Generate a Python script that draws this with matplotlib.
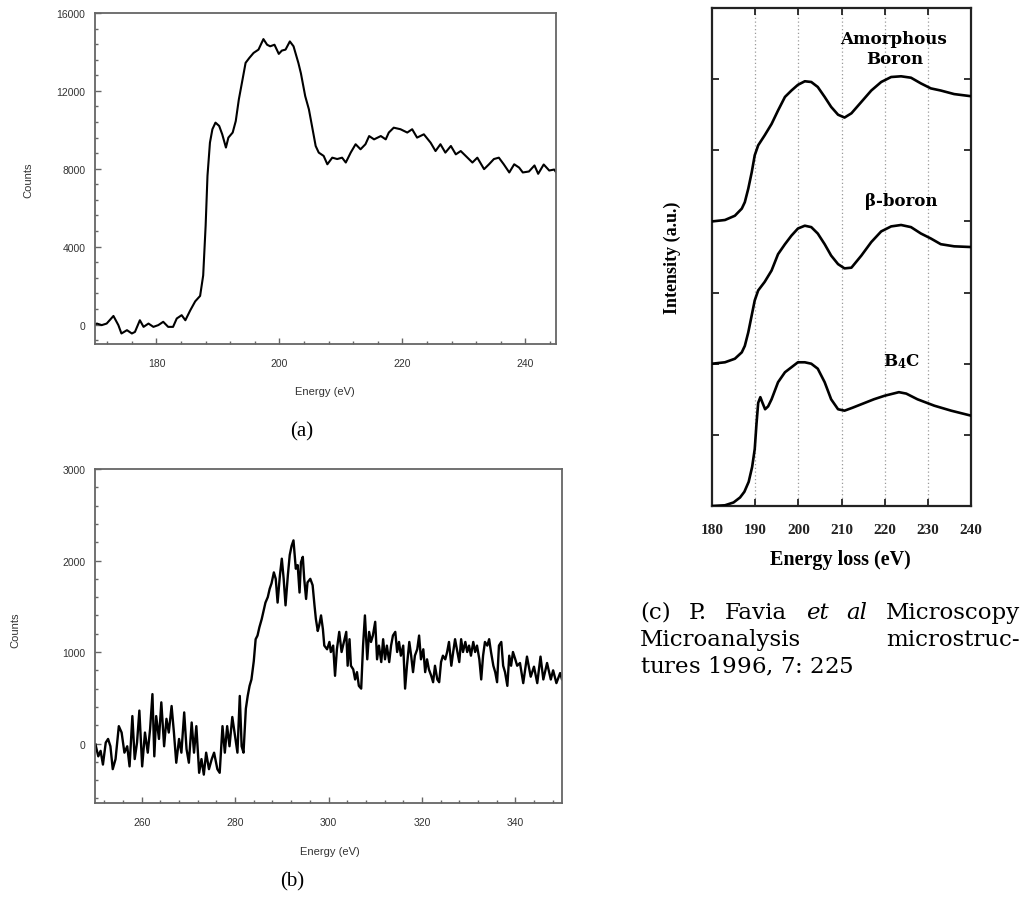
import matplotlib
matplotlib.use("Agg")
import matplotlib.pyplot as plt
from matplotlib.ticker import MultipleLocator

plt.rcParams['mathtext.fontset'] = 'custom'
plt.rcParams['mathtext.rm'] = 'DejaVu Serif'
plt.rcParams['mathtext.it'] = 'DejaVu Serif:italic'
plt.rcParams['mathtext.bf'] = 'DejaVu Serif:bold'

# ---------------- (a) boron K edge ----------------
boron_energy = [
    170.0, 170.3, 171.1, 171.9, 173.0, 173.8, 174.3, 175.2, 176.0, 176.5,
    177.3, 177.9, 178.7, 179.5, 180.3, 181.1, 181.9, 182.7, 183.3, 184.1,
    184.7, 185.5, 186.3, 187.1, 187.6, 188.0, 188.3, 188.7, 189.1, 189.6,
    190.2, 190.7, 191.3, 191.7, 192.4, 192.9, 193.4, 194.0, 194.5, 195.1,
    195.8, 196.6, 197.4, 198.0, 198.5, 199.2, 199.9, 200.4, 201.0, 201.7,
    202.3, 203.1, 203.5, 204.2, 204.8, 205.3, 205.9, 206.4, 207.2, 207.8,
    208.6, 209.4, 210.2, 210.8, 211.6, 212.4, 213.2, 214.0, 214.6, 215.4,
    216.5, 217.3, 217.8, 218.6, 219.7, 220.8, 221.6, 222.4, 223.5, 224.6,
    225.4, 226.2, 227.0, 227.9, 228.7, 229.5, 230.6, 231.4, 232.2, 233.3,
    234.1, 234.9, 235.7, 236.5, 237.4, 238.2, 239.0, 239.6, 240.6, 241.5,
    242.1, 243.0, 243.9, 244.7, 245.0]
boron_counts = [
    0, 50, -30, 50, 440, -30, -460, -290, -460, -380,
    220, -120, 50, -120, -30, 140, -120, -120, 310, 480,
    220, 730, 1190, 1470, 2520, 5080, 7640, 9340, 10030, 10370,
    10200, 9770, 9090, 9600, 9860, 10450, 11560, 12580, 13440, 13690,
    13950, 14120, 14660, 14370, 14290, 14370, 13900, 14070, 14120, 14540,
    14290, 13420, 12900, 11730, 11050, 10200, 9170, 8830, 8660, 8230,
    8570, 8500, 8570, 8320, 8830, 9260, 9000, 9260, 9680, 9510,
    9680, 9510, 9860, 10110, 10030, 9860, 10030, 9600, 9770, 9340,
    8910, 9260, 8830, 9170, 8740, 8910, 8570, 8320, 8570, 7980,
    8230, 8500, 8570, 8230, 7810, 8230, 8060, 7810, 7860, 8170,
    7740, 8220, 7910, 7960, 7830]

# ---------------- (b) carbon K edge ----------------
carbon_energy = [
    250.1, 250.7, 251.2, 251.7, 252.3, 252.8, 253.3, 253.8, 254.4, 255.1,
    255.7, 256.3, 256.9, 257.4, 258.0, 258.5, 259.0, 259.5, 260.1, 260.7,
    261.3, 261.8, 262.3, 262.7, 263.1, 263.7, 264.2, 264.8, 265.3, 265.8,
    266.4, 266.9, 267.4, 268.0, 268.5, 269.1, 269.6, 270.1, 270.7, 271.2,
    271.7, 272.3, 272.8, 273.3, 273.8, 274.4, 275.0, 275.5, 276.2, 276.7,
    277.3, 277.8, 278.3, 278.8, 279.4, 280.0, 280.5, 281.0, 281.4, 281.8,
    282.3, 282.7, 283.1, 283.5, 284.0, 284.4, 284.8, 285.2, 285.7, 286.2,
    286.5, 287.0, 287.4, 287.8, 288.3, 288.7, 289.1, 289.6, 290.0, 290.4,
    290.8, 291.3, 291.7, 292.1, 292.5, 293.0, 293.4, 293.8, 294.1, 294.5,
    294.8, 295.2, 295.5, 296.1, 296.6, 297.0, 297.3, 297.7, 298.0, 298.4,
    298.8, 299.1, 299.7, 300.2, 300.5, 301.0, 301.4, 301.8, 302.3, 302.8,
    303.3, 303.8, 304.1, 304.5, 304.8, 305.3, 305.7, 306.1, 306.5, 307.0,
    307.4, 307.8, 308.3, 308.7, 309.1, 309.5, 310.0, 310.4, 310.8, 311.3,
    311.7, 312.1, 312.5, 313.0, 313.4, 313.8, 314.3, 314.7, 315.1, 315.5,
    316.0, 316.4, 316.8, 317.3, 317.7, 318.1, 318.5, 319.0, 319.4, 319.8,
    320.3, 320.7, 321.1, 321.5, 322.0, 322.4, 322.8, 323.3, 323.7, 324.1,
    324.5, 325.0, 325.4, 325.8, 326.3, 326.7, 327.1, 327.5, 328.0, 328.4,
    328.8, 329.3, 329.7, 330.1, 330.5, 331.0, 331.4, 331.8, 332.3, 332.7,
    333.1, 333.5, 334.0, 334.4, 334.8, 335.3, 335.7, 336.1, 336.5, 337.0,
    337.4, 337.8, 338.3, 338.7, 339.1, 339.5, 340.0, 340.4, 341.0, 341.7,
    342.5, 343.3, 344.0, 344.7, 345.4, 346.0, 346.8, 347.6, 348.1, 348.8,
    349.6, 350.0]
carbon_counts = [
    -10, -140, -80, -230, 10, 50, -30, -280, -170, 190,
    120, -100, -30, -250, 300, -170, 10, 360, -250, 120,
    -100, 160, 540, -140, 300, 50, 450, -30, 270, 120,
    410, 120, -210, 50, -100, 340, -60, -210, 230, -100,
    190, -320, -170, -340, -100, -280, -170, -100, -280, -320,
    190, -100, 190, -30, 290, 80, -100, 520, -30, -100,
    380, 520, 630, 700, 900, 1140, 1180, 1270, 1360, 1470,
    1540, 1600, 1690, 1750, 1870, 1800, 1540, 1840, 2020, 1800,
    1510, 1840, 2060, 2160, 2220, 1910, 1950, 1650, 1980, 2040,
    1800, 1580, 1760, 1800, 1730, 1510, 1360, 1230, 1290, 1400,
    1250, 1070, 1030, 1110, 1000, 1070, 740, 1030, 1220, 1000,
    1110, 1220, 850, 1140, 850, 810, 700, 780, 630, 600,
    1070, 1400, 920, 1220, 1110, 1180, 1330, 920, 1070, 890,
    1140, 920, 1070, 890, 1070, 1180, 1220, 1000, 1110, 960,
    1070, 600, 850, 1110, 960, 780, 960, 1030, 1180, 920,
    1030, 780, 920, 810, 740, 670, 850, 700, 670, 890,
    960, 920, 1000, 1110, 850, 1000, 1140, 1030, 890, 1140,
    1000, 1110, 1000, 1070, 960, 1110, 1000, 1070, 920, 700,
    960, 1110, 1070, 1140, 1000, 850, 780, 670, 1070, 1110,
    850, 780, 630, 960, 850, 1000, 920, 850, 880, 660,
    950, 730, 840, 660, 950, 700, 880, 700, 800, 660,
    770, 700]

# ---------------- (c) reference spectra (stacked, a.u.) ----------------
ref_energy = [180.0, 183.0, 185.3, 186.9, 187.6, 188.4, 189.2, 189.9, 190.7, 192.2,
              193.8, 195.3, 196.9, 198.4, 199.9, 201.5, 203.0, 204.5, 206.1, 207.6,
              209.2, 210.7, 212.3, 214.6, 216.9, 219.2, 221.5, 223.8, 226.1, 228.4,
              230.7, 233.0, 236.1, 240.0]
amorphous_boron = [4.00, 4.02, 4.08, 4.18, 4.27, 4.46, 4.69, 4.93, 5.07, 5.21,
                   5.37, 5.56, 5.75, 5.84, 5.92, 5.97, 5.96, 5.89, 5.75, 5.61,
                   5.50, 5.46, 5.52, 5.68, 5.84, 5.96, 6.03, 6.04, 6.02, 5.94,
                   5.87, 5.84, 5.79, 5.76]
beta_boron = [2.00, 2.02, 2.07, 2.16, 2.25, 2.44, 2.68, 2.89, 3.03, 3.15,
              3.31, 3.54, 3.68, 3.80, 3.90, 3.94, 3.92, 3.83, 3.68, 3.52,
              3.40, 3.34, 3.35, 3.52, 3.71, 3.86, 3.93, 3.95, 3.92, 3.83,
              3.76, 3.68, 3.65, 3.64]
b4c_energy = [180.0, 183.0, 185.0, 186.5, 187.5, 188.5, 189.3, 189.9, 190.3, 190.7,
              191.2, 191.7, 192.3, 193.0, 193.8, 195.3, 196.9, 198.4, 199.9, 201.5,
              203.0, 204.5, 206.1, 207.6, 209.2, 210.7, 212.5, 215.0, 217.5, 220.0,
              223.3, 225.0, 227.6, 231.5, 235.4, 240.0]
b4c = [0.00, 0.01, 0.05, 0.12, 0.20, 0.34, 0.55, 0.80, 1.15, 1.45,
       1.53, 1.45, 1.36, 1.40, 1.50, 1.74, 1.88, 1.95, 2.02, 2.02,
       2.00, 1.93, 1.74, 1.50, 1.36, 1.34, 1.38, 1.44, 1.50, 1.55,
       1.60, 1.58, 1.50, 1.41, 1.34, 1.27]
guide_lines = [190, 200, 210, 220, 230]

W, H = 1024, 903
fig = plt.figure(figsize=(W / 100, H / 100), dpi=100)
fig.patch.set_facecolor('white')


def box(l, t, r, b):
    return [l / W, 1 - b / H, (r - l) / W, (b - t) / H]


def at(x, y):
    return x / W, 1 - y / H


SANS = 'Liberation Sans'
SERIF = 'Liberation Serif'
CAPTION = 'DejaVu Serif'
GRAY = '#666666'


def style_counts_axes(ax):
    for sp in ax.spines.values():
        sp.set_color(GRAY)
        sp.set_linewidth(1.3)
    ax.tick_params(which='both', direction='in', colors=GRAY, labelcolor='#333333',
                   labelsize=7.5, width=1.0)
    ax.tick_params(which='major', length=4)
    ax.tick_params(which='minor', length=2.5)
    ax.tick_params(axis='x', pad=10)
    ax.tick_params(axis='y', pad=7)
    for lab in ax.get_xticklabels() + ax.get_yticklabels():
        lab.set_family(SANS)


# panel (a)
axa = fig.add_axes(box(95, 14, 556, 345))
axa.plot(boron_energy, boron_counts, color='black', lw=1.5)
axa.set_xlim(170, 245)
axa.set_ylim(-1000, 16000)
axa.xaxis.set_major_locator(MultipleLocator(20))
axa.xaxis.set_minor_locator(MultipleLocator(4))
axa.yaxis.set_major_locator(MultipleLocator(4000))
axa.yaxis.set_minor_locator(MultipleLocator(800))
style_counts_axes(axa)
fig.text(*at(28, 180), 'Counts', rotation=90, ha='center', va='center',
         fontsize=8, family=SANS, color='#333333')
fig.text(*at(325, 392), 'Energy (eV)', ha='center', va='center',
         fontsize=8, family=SANS, color='#333333')
fig.text(*at(302, 432), '(a)', ha='center', va='center', fontsize=15, family=SERIF)

# panel (b)
axb = fig.add_axes(box(95, 470, 562, 804))
axb.plot(carbon_energy, carbon_counts, color='black', lw=1.7)
axb.set_xlim(250, 350)
axb.set_ylim(-650, 3000)
axb.xaxis.set_major_locator(MultipleLocator(20))
axb.xaxis.set_minor_locator(MultipleLocator(4))
axb.yaxis.set_major_locator(MultipleLocator(1000))
axb.yaxis.set_minor_locator(MultipleLocator(200))
style_counts_axes(axb)
fig.text(*at(15, 630), 'Counts', rotation=90, ha='center', va='center',
         fontsize=8, family=SANS, color='#333333')
fig.text(*at(330, 852), 'Energy (eV)', ha='center', va='center',
         fontsize=8, family=SANS, color='#333333')
fig.text(*at(292, 882), '(b)', ha='center', va='center', fontsize=15, family=SERIF)

# panel (c)
axc = fig.add_axes(box(712, 9, 971, 507))
for x in guide_lines:
    axc.axvline(x, color='#9a9a9a', lw=0.9, ls=(0, (1, 2)), zorder=1)
axc.plot(ref_energy, amorphous_boron, color='black', lw=1.9, zorder=3)
axc.plot(ref_energy, beta_boron, color='black', lw=1.9, zorder=3)
axc.plot(b4c_energy, b4c, color='black', lw=1.9, zorder=3)
axc.set_xlim(180, 240)
axc.set_ylim(0, 7)
axc.set_xticks(range(180, 241, 10))
axc.set_yticks([1, 2, 3, 4, 5, 6])
axc.set_yticklabels([])
for sp in axc.spines.values():
    sp.set_color('#222222')
    sp.set_linewidth(1.6)
axc.tick_params(direction='in', top=True, right=True, length=5, width=1.3,
                colors='#222222', labelsize=11, pad=12)
for lab in axc.get_xticklabels():
    lab.set_family(SERIF)
    lab.set_weight('bold')
fig.text(*at(840, 560), 'Energy loss (eV)', ha='center', va='center',
         fontsize=14.5, family=SERIF, weight='bold')
fig.text(*at(672, 258), 'Intensity (a.u.)', rotation=90, ha='center', va='center',
         fontsize=13, family=SERIF, weight='bold')
fig.text(*at(893, 40), 'Amorphous', ha='center', va='center', fontsize=12,
         family='DejaVu Serif', weight='bold')
fig.text(*at(895, 59), 'Boron', ha='center', va='center', fontsize=12,
         family='DejaVu Serif', weight='bold')
fig.text(*at(901, 201), 'β-boron', ha='center', va='center', fontsize=12,
         family='DejaVu Serif', weight='bold')
fig.text(*at(902, 362), r'$\mathbf{B_4C}$', ha='center', va='center', fontsize=12)

# caption for (c): words spread evenly between the two margins
cap_l, cap_r = 640, 1020
cap_fs = 16.5
cap_rows = [613, 640, 667]
renderer = fig.canvas.get_renderer()


def justified(words, y, styles):
    items = [fig.text(*at(cap_l, y), w, ha='left', va='center', fontsize=cap_fs,
                      family=CAPTION, style=s) for w, s in zip(words, styles)]
    widths = [t.get_window_extent(renderer).width for t in items]
    gap = (cap_r - cap_l - sum(widths)) / (len(items) - 1)
    x = cap_l
    for t, w in zip(items, widths):
        t.set_position(at(x, y))
        x += w + gap


justified(['(c)', 'P.', 'Favia', 'et', 'al', 'Microscopy'], cap_rows[0],
          ['normal', 'normal', 'normal', 'italic', 'italic', 'normal'])
justified(['Microanalysis', 'microstruc-'], cap_rows[1], ['normal', 'normal'])
fig.text(*at(cap_l, cap_rows[2]), r'tures 1996, $\mathit{7}$: 225', ha='left',
         va='center', fontsize=cap_fs, family=CAPTION)

fig.savefig('out.png', dpi=100, facecolor='white')
